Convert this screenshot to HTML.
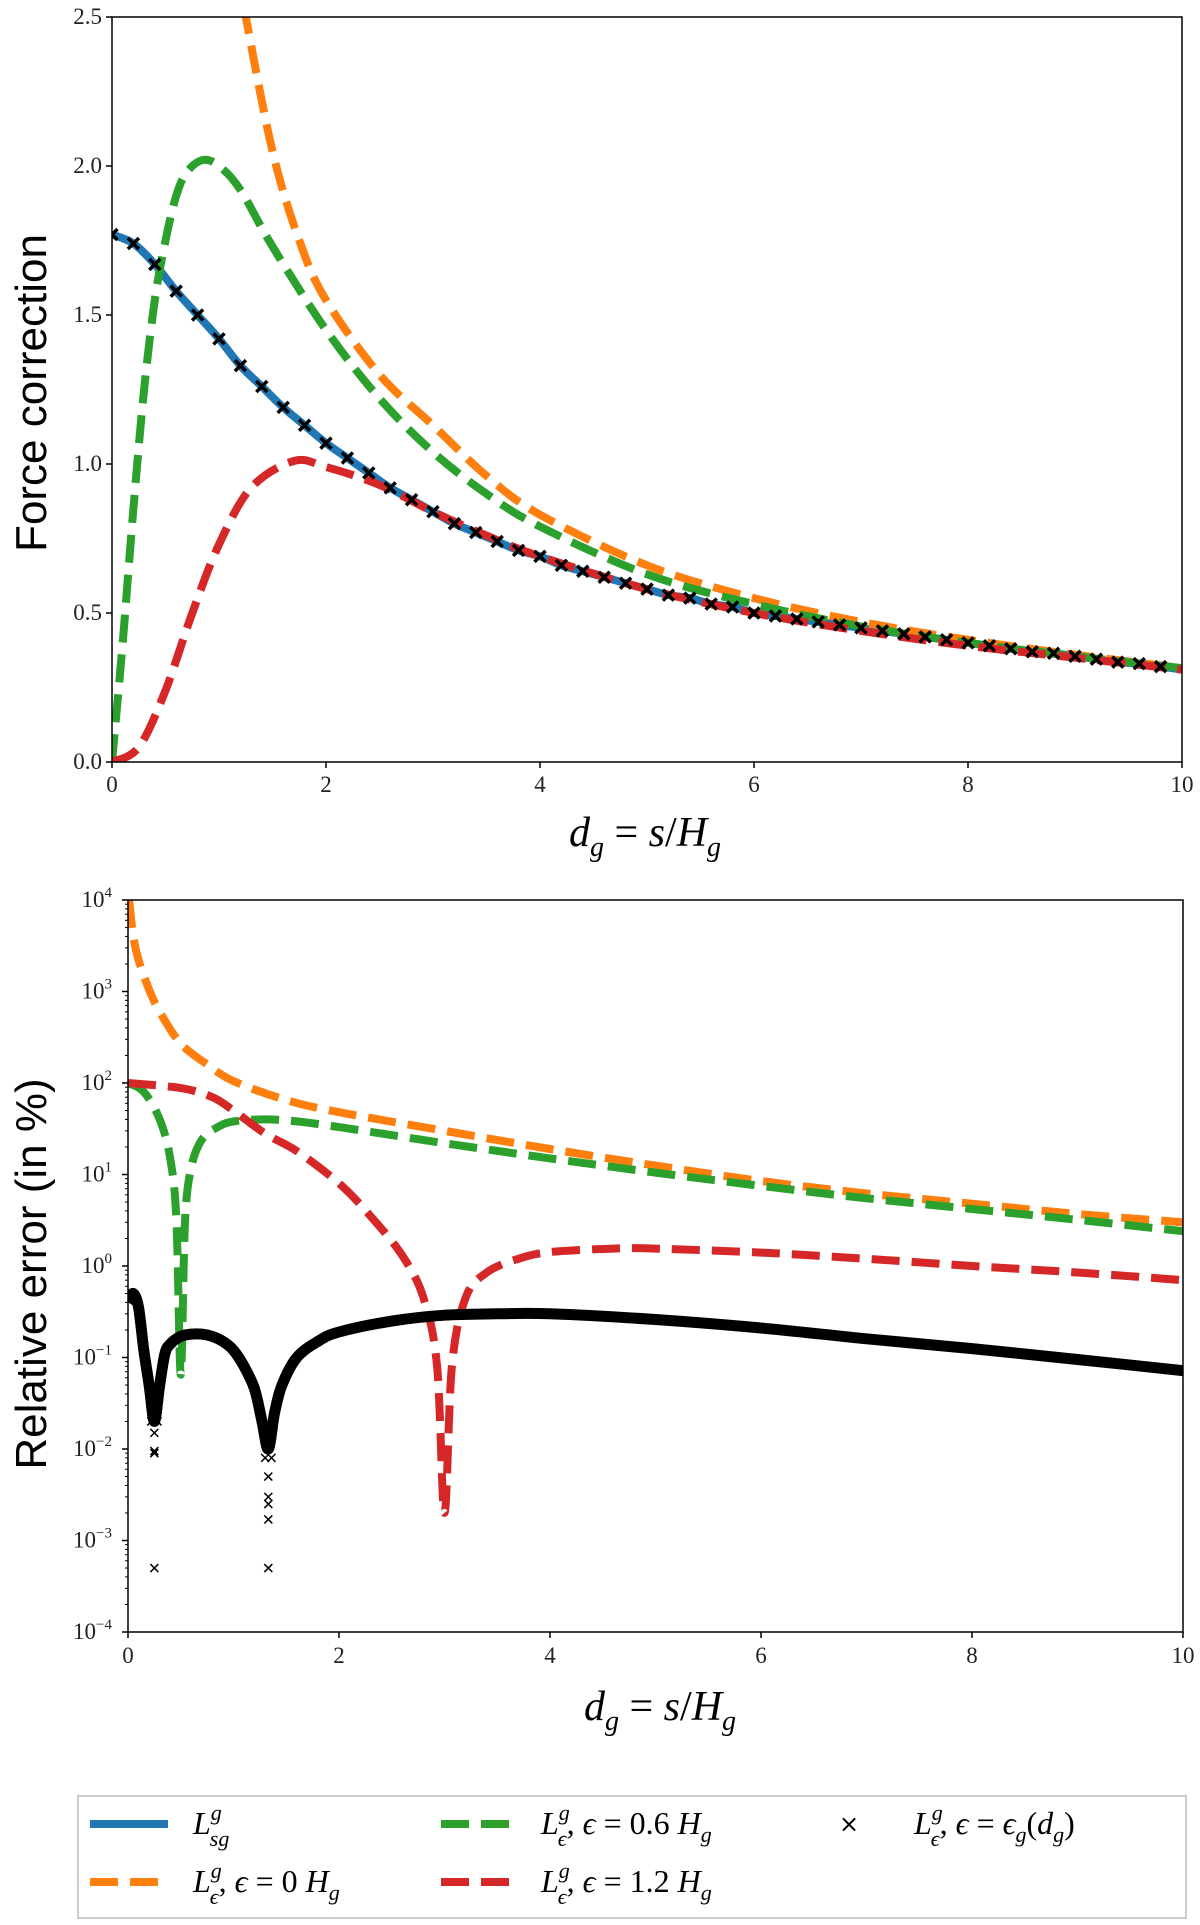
<!DOCTYPE html>
<html><head><meta charset="utf-8">
<style>
body{margin:0;background:#fff;}
svg{display:block;}
.tk{font-family:"Liberation Serif",serif;font-size:23px;fill:#222;}
.lab{font-family:"Liberation Sans",sans-serif;font-size:44px;fill:#000;}
.math{font-family:"Liberation Serif",serif;font-style:italic;fill:#000;}
.rm{font-style:normal;}
</style></head>
<body>
<svg id="fig" width="1200" height="1925" viewBox="0 0 1200 1925" xmlns="http://www.w3.org/2000/svg">
<defs>
<clipPath id="clipTop"><rect x="112" y="17" width="1070" height="745"/></clipPath>
<clipPath id="clipBot"><rect x="128" y="900" width="1055" height="732"/></clipPath>
</defs>
<g id="topChart"></g>
<g id="botChart"></g>
<text class="lab" transform="translate(46,393) rotate(-90)" text-anchor="middle">Force correction</text>
<text class="lab" transform="translate(46,1274) rotate(-90)" text-anchor="middle">Relative error (in %)</text>
<text class="math" x="645" y="846" font-size="42" text-anchor="middle">d<tspan font-size="28" dy="10">g</tspan><tspan dy="-10" class="rm"> = </tspan>s<tspan class="rm">/</tspan>H<tspan font-size="28" dy="10">g</tspan></text>
<text class="math" x="660" y="1720" font-size="42" text-anchor="middle">d<tspan font-size="28" dy="10">g</tspan><tspan dy="-10" class="rm"> = </tspan>s<tspan class="rm">/</tspan>H<tspan font-size="28" dy="10">g</tspan></text>
<g id="legend">
<rect x="78" y="1796" width="1108" height="122" fill="#fff" stroke="#ccc" stroke-width="2"/>
<line x1="90" y1="1824" x2="168" y2="1824" stroke="#1f77b4" stroke-width="8"/>
<text class="math" x="193" y="1834" font-size="32">L<tspan font-size="22" dy="-14">g</tspan><tspan font-size="22" dx="-12" dy="26">sg</tspan></text>
<line x1="90" y1="1882" x2="168" y2="1882" stroke="#ff7f0e" stroke-width="8" stroke-dasharray="28,12"/>
<text class="math" x="193" y="1892" font-size="32">L<tspan font-size="22" dy="-14">g</tspan><tspan font-size="22" dx="-12" dy="26">ϵ</tspan><tspan dy="-12" class="rm">, </tspan>ϵ<tspan class="rm"> = 0 </tspan>H<tspan font-size="22" dy="8">g</tspan></text>
<line x1="441" y1="1824" x2="515" y2="1824" stroke="#2ca02c" stroke-width="8" stroke-dasharray="28,12"/>
<text class="math" x="541" y="1834" font-size="32">L<tspan font-size="22" dy="-14">g</tspan><tspan font-size="22" dx="-12" dy="26">ϵ</tspan><tspan dy="-12" class="rm">, </tspan>ϵ<tspan class="rm"> = 0.6 </tspan>H<tspan font-size="22" dy="8">g</tspan></text>
<line x1="441" y1="1882" x2="515" y2="1882" stroke="#d62728" stroke-width="8" stroke-dasharray="28,12"/>
<text class="math" x="541" y="1892" font-size="32">L<tspan font-size="22" dy="-14">g</tspan><tspan font-size="22" dx="-12" dy="26">ϵ</tspan><tspan dy="-12" class="rm">, </tspan>ϵ<tspan class="rm"> = 1.2 </tspan>H<tspan font-size="22" dy="8">g</tspan></text>
<text x="849" y="1832" font-size="24" font-family="DejaVu Sans,sans-serif" text-anchor="middle">×</text>
<text class="math" x="914" y="1834" font-size="32">L<tspan font-size="22" dy="-14">g</tspan><tspan font-size="22" dx="-12" dy="26">ϵ</tspan><tspan dy="-12" class="rm">, </tspan>ϵ<tspan class="rm"> = </tspan>ϵ<tspan font-size="22" dy="8">g</tspan><tspan dy="-8" class="rm">(</tspan>d<tspan font-size="22" dy="8">g</tspan><tspan dy="-8" class="rm">)</tspan></text>
</g>
</svg>
<script>
// ---------- TOP CHART DATA ----------
const topXTicks = [0, 2, 4, 6, 8, 10];
const topYTicks = ["0.0", "0.5", "1.0", "1.5", "2.0", "2.5"];
const blueX = [0,0.2,0.4,0.6,0.8,1,1.2,1.4,1.6,1.8,2,2.2,2.4,2.6,2.8,3,3.2,3.4,3.6,3.8,4,4.2,4.4,4.6,4.8,5,5.2,5.4,5.6,5.8,6,6.2,6.4,6.6,6.8,7,7.2,7.4,7.6,7.8,8,8.2,8.4,8.6,8.8,9,9.2,9.4,9.6,9.8,10];
const blueY = [1.77,1.74,1.67,1.58,1.50,1.42,1.33,1.26,1.19,1.13,1.07,1.02,0.97,0.92,0.88,0.84,0.80,0.77,0.74,0.71,0.69,0.66,0.64,0.62,0.60,0.58,0.56,0.55,0.53,0.52,0.50,0.49,0.48,0.47,0.46,0.45,0.44,0.43,0.42,0.41,0.40,0.39,0.38,0.37,0.365,0.355,0.345,0.335,0.33,0.32,0.31];
const orangeX = [1.1,1.25,1.5,1.75,2,2.5,3,3.5,4,5,6,7,8,9,10];
const orangeY = [2.8,2.5,2.05,1.75,1.55,1.3,1.13,0.96,0.83,0.66,0.55,0.47,0.41,0.36,0.315];
const greenX = [0,0.1,0.2,0.3,0.4,0.5,0.6,0.7,0.85,1,1.2,1.5,2,2.5,3,3.5,4,5,6,7,8,9,10];
const greenY = [0,0.4,0.85,1.25,1.55,1.75,1.9,1.98,2.02,2.0,1.92,1.73,1.45,1.22,1.04,0.9,0.79,0.63,0.53,0.455,0.4,0.355,0.315];
const redX = [0,0.25,0.5,0.75,1,1.3,1.7,2,2.5,3,3.5,4,5,6,7,8,9,10];
const redY = [0,0.05,0.24,0.5,0.73,0.92,1.01,0.99,0.93,0.84,0.76,0.69,0.58,0.5,0.44,0.39,0.35,0.31];
const crossX = [0,0.2,0.4,0.6,0.8,1,1.2,1.4,1.6,1.8,2,2.2,2.4,2.6,2.8,3,3.2,3.4,3.6,3.8,4,4.2,4.4,4.6,4.8,5,5.2,5.4,5.6,5.8,6,6.2,6.4,6.6,6.8,7,7.2,7.4,7.6,7.8,8,8.2,8.4,8.6,8.8,9,9.2,9.4,9.6,9.8];
const crossY = [1.77,1.74,1.67,1.58,1.50,1.42,1.33,1.26,1.19,1.13,1.07,1.02,0.97,0.92,0.88,0.84,0.80,0.77,0.74,0.71,0.69,0.66,0.64,0.62,0.60,0.58,0.56,0.55,0.53,0.52,0.50,0.49,0.48,0.47,0.46,0.45,0.44,0.43,0.42,0.41,0.40,0.39,0.38,0.37,0.365,0.355,0.345,0.335,0.33,0.32];

// ---------- BOTTOM CHART DATA ----------
const botXTicks = [0, 2, 4, 6, 8, 10];
const botYExps = [-4, -3, -2, -1, 0, 1, 2, 3, 4];
const bOrangeX = [0.01,0.05,0.1,0.2,0.3,0.5,0.75,1,1.5,2,3,4,5,6,7,8,9,10];
const bOrangeY = [10000,4000,2200,1050,600,270,160,105,65,48,30,19,12.5,8.5,6.2,4.8,3.7,3.0];
const bGreenX = [0,0.15,0.3,0.4,0.46,0.5,0.54,0.6,0.7,0.85,1,1.3,1.6,2,3,4,5,6,7,8,9,10];
const bGreenY = [100,80,40,15,3,0.065,3,12,24,33,38,40,38,33,22,15,10.5,7.5,5.5,4.2,3.2,2.4];
const bRedX = [0,0.5,0.8,1,1.3,1.6,2,2.3,2.6,2.8,2.93,3.0,3.07,3.2,3.4,3.7,4,4.6,5,6,7,8,9,10];
const bRedY = [100,88,70,50,28,18,8,3.5,1.3,0.45,0.08,0.002,0.08,0.45,0.85,1.2,1.42,1.55,1.55,1.4,1.2,1.0,0.85,0.7];
const bBlackX = [0,0.05,0.1,0.15,0.2,0.25,0.3,0.35,0.4,0.5,0.6,0.7,0.8,0.9,1,1.1,1.2,1.27,1.33,1.39,1.46,1.6,1.8,2,2.5,3,3.5,4,5,6,7,8,9,10];
const bBlackY = [0.4,0.5,0.35,0.12,0.05,0.02,0.05,0.11,0.14,0.17,0.18,0.18,0.17,0.15,0.12,0.08,0.045,0.02,0.01,0.025,0.05,0.1,0.15,0.19,0.25,0.29,0.3,0.3,0.26,0.21,0.16,0.125,0.095,0.072];
const bOutlierX = [0.22,0.25,0.28,0.25,0.25,0.25,1.3,1.33,1.36,1.33,1.33,1.33,1.33];
const bOutlierY = [0.02,0.015,0.02,0.0095,0.009,0.0005,0.008,0.005,0.008,0.003,0.0025,0.0017,0.0005];

const NS = "http://www.w3.org/2000/svg";
function mk(tag, attrs, parent){ const e=document.createElementNS(NS,tag); for(const k in attrs) e.setAttribute(k,attrs[k]); parent.appendChild(e); return e; }

const tx = x => 112 + 107*x;
const ty = v => 762 - 298*v;
const bx = x => 128 + 105.5*x;
const by = v => 900 + (4 - Math.log10(v))*91.5;

function smoothPath(pts){
  let d = "M" + pts[0][0].toFixed(1) + "," + pts[0][1].toFixed(1);
  for(let i=0;i<pts.length-1;i++){
    const p0=pts[Math.max(0,i-1)], p1=pts[i], p2=pts[i+1], p3=pts[Math.min(pts.length-1,i+2)];
    const c1=[p1[0]+(p2[0]-p0[0])/6, p1[1]+(p2[1]-p0[1])/6];
    const c2=[p2[0]-(p3[0]-p1[0])/6, p2[1]-(p3[1]-p1[1])/6];
    d += "C"+c1[0].toFixed(1)+","+c1[1].toFixed(1)+" "+c2[0].toFixed(1)+","+c2[1].toFixed(1)+" "+p2[0].toFixed(1)+","+p2[1].toFixed(1);
  }
  return d;
}
function cross(g,x,y,s,w){
  return mk("path",{d:`M${x-s},${y-s}L${x+s},${y+s}M${x-s},${y+s}L${x+s},${y-s}`,stroke:"#000","stroke-width":w,fill:"none"},g);
}

// ---------- TOP ----------
const topG = document.getElementById("topChart");
const tc = mk("g",{"clip-path":"url(#clipTop)"},topG);
let p;
p = mk("path",{d:smoothPath(blueX.map((x,i)=>[tx(x),ty(blueY[i])])),stroke:"#1f77b4","stroke-width":8,fill:"none"},tc);


p = mk("path",{d:smoothPath(orangeX.map((x,i)=>[tx(x),ty(orangeY[i])])),stroke:"#ff7f0e","stroke-width":8,fill:"none","stroke-dasharray":"28,12"},tc);


p = mk("path",{d:smoothPath(greenX.map((x,i)=>[tx(x),ty(greenY[i])])),stroke:"#2ca02c","stroke-width":8,fill:"none","stroke-dasharray":"28,12"},tc);


p = mk("path",{d:smoothPath(redX.map((x,i)=>[tx(x),ty(redY[i])])),stroke:"#d62728","stroke-width":8,fill:"none","stroke-dasharray":"28,12"},tc);


crossX.forEach((x,i)=>{
  const c = cross(tc,tx(x),ty(crossY[i]),5.5,3.5);
  
  
});
let fr = mk("rect",{x:112,y:17,width:1070,height:745,fill:"none",stroke:"#000","stroke-width":1.5},topG);


topXTicks.forEach(v=>{
  mk("line",{x1:tx(v),y1:762,x2:tx(v),y2:768,stroke:"#000","stroke-width":1.5},topG);
  const t = mk("text",{x:tx(v),y:792,"text-anchor":"middle",class:"tk"},topG); t.textContent=v;
  
  
});
topYTicks.forEach(s=>{
  const v=parseFloat(s);
  mk("line",{x1:106,y1:ty(v),x2:112,y2:ty(v),stroke:"#000","stroke-width":1.5},topG);
  const t = mk("text",{x:102,y:ty(v)+7,"text-anchor":"end",class:"tk"},topG); t.textContent=s;
  
  
});

// ---------- BOTTOM ----------
const botG = document.getElementById("botChart");
const bc = mk("g",{"clip-path":"url(#clipBot)"},botG);
p = mk("path",{d:smoothPath(bOrangeX.map((x,i)=>[bx(x),by(bOrangeY[i])])),stroke:"#ff7f0e","stroke-width":8,fill:"none","stroke-dasharray":"28,12"},bc);


p = mk("path",{d:smoothPath(bGreenX.map((x,i)=>[bx(x),by(bGreenY[i])])),stroke:"#2ca02c","stroke-width":8,fill:"none","stroke-dasharray":"28,12"},bc);


p = mk("path",{d:smoothPath(bRedX.map((x,i)=>[bx(x),by(bRedY[i])])),stroke:"#d62728","stroke-width":8,fill:"none","stroke-dasharray":"28,12"},bc);


p = mk("path",{d:smoothPath(bBlackX.map((x,i)=>[bx(x),by(bBlackY[i])])),stroke:"#000","stroke-width":11,fill:"none"},bc);


bOutlierX.forEach((x,i)=>{
  const c = cross(bc,bx(x),by(bOutlierY[i]),4,1.5);
  
  
});
fr = mk("rect",{x:128,y:900,width:1055,height:732,fill:"none",stroke:"#000","stroke-width":1.5},botG);


botXTicks.forEach(v=>{
  mk("line",{x1:bx(v),y1:1632,x2:bx(v),y2:1638,stroke:"#000","stroke-width":1.5},botG);
  const t = mk("text",{x:bx(v),y:1663,"text-anchor":"middle",class:"tk"},botG); t.textContent=v;
  
  
});
botYExps.forEach(e=>{
  const y = by(Math.pow(10,e));
  mk("line",{x1:122,y1:y,x2:128,y2:y,stroke:"#000","stroke-width":1.5},botG);
  if(e<4){ for(let m=2;m<10;m++){ const ym=by(m*Math.pow(10,e)); mk("line",{x1:125,y1:ym,x2:128,y2:ym,stroke:"#000","stroke-width":1},botG);} }
  const t = mk("text",{x:112,y:y+7,"text-anchor":"end",class:"tk"},botG);
  
  
  t.appendChild(document.createTextNode("10"));
  const sp = mk("tspan",{dy:-10,"font-size":15},t); sp.textContent = (e<0?"−":"")+Math.abs(e);
});
</script>
</body></html>
